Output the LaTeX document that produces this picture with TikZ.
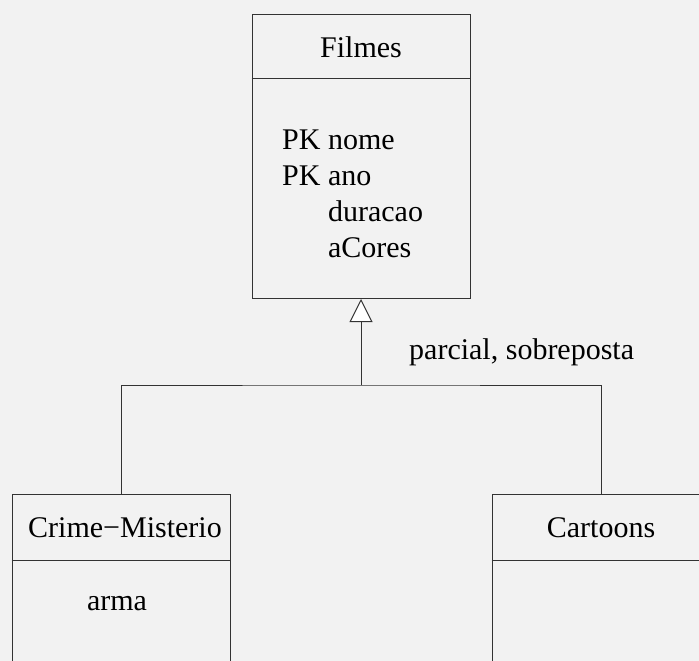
\documentclass[tikz,border=0pt]{standalone}
\usepackage{fontspec}
\setmainfont{Liberation Serif}
\usepackage{tikz}
\usetikzlibrary{arrows.meta}
\definecolor{bgGray}{HTML}{F2F2F2}
\definecolor{lineGray}{HTML}{333333}
\tikzset{%
  genTip/.tip={Triangle[length=23pt,width=23pt,fill=white]},
  classBox/.style={draw=lineGray, line width=1pt, minimum width=218pt, minimum height=284pt, inner sep=0pt},
  txt/.style={inner sep=0pt, anchor=base, font=\fontsize{30}{36}\selectfont}
}

\begin{document}
\begin{tikzpicture}[x=1pt,y=-1pt]
\fill[bgGray] (0,0) rectangle (699,661);
\clip (0,0) rectangle (699,661);
\node[classBox, anchor=north] (filmes) at (361,14) {};
\node[classBox, anchor=north] (crime) at (121,494) {};
\node[classBox, anchor=north] (cartoons) at (601,494) {};
\draw[lineGray, line width=1pt] (filmes.north west) ++(0,65) -- ++(218,0);
\draw[lineGray, line width=1pt] (crime.north west) ++(0,66) -- ++(218,0);
\draw[lineGray, line width=1pt] (cartoons.north west) ++(0,66) -- ++(218,0);
\node[txt] (filmesName) at (361,58) {Filmes};
\node[txt, anchor=base west] (filmesAttr) at (282,149) {\begin{tabular}[t]{@{}l@{ }l@{}}PK & nome\\ PK & ano\\ & duracao\\ & aCores\end{tabular}};
\node[txt] (crimeName) at (125,537) {Crime−Misterio};
\node[txt] (crimeAttr) at (117,610) {arma};
\node[txt] (cartoonsName) at (601,537) {Cartoons};
%% generalizacao
\coordinate (split) at (361,385);
\draw[lineGray, line width=1pt] (crime.north) |- (split) -| (cartoons.north);
\draw[lineGray, line width=1pt, -genTip] (split) -- (filmes.south);
\node[txt, anchor=base west] (kind) at (409,359) {parcial, sobreposta};
\end{tikzpicture}
\end{document}
